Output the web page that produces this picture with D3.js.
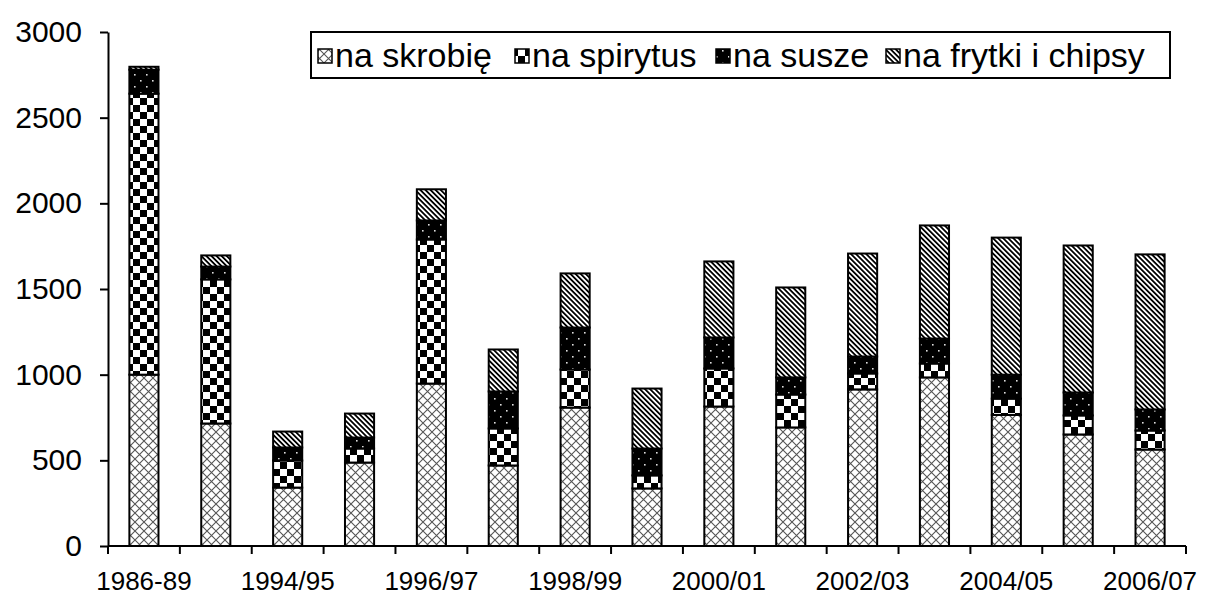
<!DOCTYPE html>
<html>
<head>
<meta charset="utf-8">
<script src="https://cdn.jsdelivr.net/npm/d3@7"></script>
<style>
  body { margin: 0; background: #fff; }
  text { font-family: Arial, "Liberation Sans", sans-serif; fill: #000; }
</style>
</head>
<body>
<div id="plot_div"></div>
<script>
const width  = 1205;
const height = 598;
const margin = {top: 32, right: 19, bottom: 52, left: 108};

// seasons (every other label shown on the axis)
const seasons = ["1986-89", "1993/94", "1994/95", "1995/96", "1996/97", "1997/98", "1998/99",
                 "1999/00", "2000/01", "2001/02", "2002/03", "2003/04", "2004/05", "2005/06", "2006/07"];

// uses of potatoes, thousand tonnes
const skrobie   = [1000, 715, 341, 487, 948, 470, 808, 336, 814, 692, 914, 984, 765, 651, 563];
const spirytus  = [1640, 841, 158,  82, 841, 216, 222,  76, 222, 192,  93,  81,  95, 111, 111];
const susze     = [ 140,  75,  76,  64, 111, 216, 245, 157, 181, 100,  99, 146, 140, 134, 123];
const frytki    = [  17,  65,  93, 140, 182, 245, 316, 350, 444, 525, 601, 660, 800, 858, 905];

const seriesNames = ["na skrobię", "na spirytus", "na susze", "na frytki i chipsy"];
const seriesKeys  = ["skrobie", "spirytus", "susze", "frytki"];
const yTicks = [0, 500, 1000, 1500, 2000, 2500, 3000];

const table = seasons.map((s, i) => ({
  season: s, skrobie: skrobie[i], spirytus: spirytus[i], susze: susze[i], frytki: frytki[i]
}));
const stacked = d3.stack().keys(seriesKeys)(table);

const svg = d3.create("svg")
    .attr("width", width)
    .attr("height", height)
    .attr("viewBox", [0, 0, width, height]);

// ---------------- fill patterns ----------------
const defs = svg.append("defs");

// crosshatch (na skrobię)
const p0 = defs.append("pattern").attr("id", "pat0")
    .attr("patternUnits", "userSpaceOnUse").attr("width", 9).attr("height", 9);
p0.append("rect").attr("width", 9).attr("height", 9).attr("fill", "#fff");
p0.append("path").attr("d", "M0,0L9,9M9,0L0,9")
    .attr("stroke", "#555").attr("stroke-width", 1.1).attr("fill", "none");

// checkerboard (na spirytus)
const p1 = defs.append("pattern").attr("id", "pat1")
    .attr("patternUnits", "userSpaceOnUse").attr("width", 14).attr("height", 14);
p1.append("rect").attr("width", 14).attr("height", 14).attr("fill", "#fff");
p1.append("rect").attr("x", 0).attr("y", 0).attr("width", 7).attr("height", 7).attr("fill", "#000");
p1.append("rect").attr("x", 7).attr("y", 7).attr("width", 7).attr("height", 7).attr("fill", "#000");

// black with white dots (na susze)
const p2 = defs.append("pattern").attr("id", "pat2")
    .attr("patternUnits", "userSpaceOnUse").attr("width", 12).attr("height", 12);
p2.append("rect").attr("width", 12).attr("height", 12).attr("fill", "#000");
p2.append("rect").attr("x", 2).attr("y", 2).attr("width", 1.6).attr("height", 1.6).attr("fill", "#ddd");
p2.append("rect").attr("x", 8).attr("y", 8).attr("width", 1.6).attr("height", 1.6).attr("fill", "#ddd");

// diagonal stripes (na frytki i chipsy)
const p3 = defs.append("pattern").attr("id", "pat3")
    .attr("patternUnits", "userSpaceOnUse").attr("width", 3.6).attr("height", 10)
    .attr("patternTransform", "rotate(-45)");
p3.append("rect").attr("width", 3.6).attr("height", 10).attr("fill", "#fff");
p3.append("rect").attr("width", 1.8).attr("height", 10).attr("fill", "#000");

const fills = ["url(#pat0)", "url(#pat1)", "url(#pat2)", "url(#pat3)"];

// ---------------- scales ----------------
const x = d3.scaleBand()
    .domain(seasons)
    .range([margin.left, width - margin.right])
    .paddingInner(0.595)
    .paddingOuter(0.2975);

const y = d3.scaleLinear()
    .domain([0, 3000])
    .range([height - margin.bottom, margin.top]);

// ---------------- bars ----------------
svg.append("g")
  .selectAll("g")
  .data(stacked)
  .join("g")
    .attr("fill", (d, i) => fills[i])
  .selectAll("rect")
  .data(d => d)
  .join("rect")
    .attr("x", d => x(d.data.season))
    .attr("y", d => y(d[1]))
    .attr("width", x.bandwidth())
    .attr("height", d => y(d[0]) - y(d[1]))
    .attr("stroke", "#000")
    .attr("stroke-width", 2);

// ---------------- axes ----------------
const yAxis = svg.append("g")
    .attr("transform", `translate(${margin.left},0)`)
    .call(d3.axisLeft(y).tickValues(yTicks).tickFormat(d3.format("d"))
            .tickSize(8).tickPadding(18).tickSizeOuter(0));
yAxis.select(".domain").attr("stroke-width", 2);
yAxis.selectAll(".tick line").attr("stroke-width", 2);
yAxis.selectAll(".tick text").attr("font-size", 30);

// x axis: ticks between categories
const xAxis = svg.append("g")
    .attr("transform", `translate(0,${y(0)})`);
xAxis.append("line")
    .attr("x1", margin.left).attr("x2", width - margin.right)
    .attr("stroke", "#000").attr("stroke-width", 2);
const edges = seasons.map(s => x(s) - x.step() * x.paddingInner() / 2)
    .concat([x(seasons[seasons.length - 1]) + x.bandwidth() + x.step() * x.paddingInner() / 2]);
xAxis.selectAll("line.tick")
  .data(edges)
  .join("line")
    .attr("class", "tick")
    .attr("x1", d => d).attr("x2", d => d)
    .attr("y1", 0).attr("y2", 8)
    .attr("stroke", "#000").attr("stroke-width", 2);
xAxis.selectAll("text")
  .data(seasons.filter((s, i) => i % 2 === 0))
  .join("text")
    .attr("x", d => x(d) + x.bandwidth() / 2)
    .attr("y", 44)
    .attr("text-anchor", "middle")
    .attr("font-size", 26)
    .text(d => d);

// ---------------- legend ----------------
const legend = svg.append("g");
legend.append("rect")
    .attr("x", 311).attr("y", 32).attr("width", 859).attr("height", 46)
    .attr("fill", "#fff").attr("stroke", "#000").attr("stroke-width", 2);
const legX = [318, 515, 716, 886];
seriesNames.forEach((name, i) => {
  legend.append("rect")
      .attr("x", legX[i]).attr("y", 49).attr("width", 14).attr("height", 14)
      .attr("fill", fills[i]).attr("stroke", "#000").attr("stroke-width", 1.5);
  legend.append("text")
      .attr("x", legX[i] + 17).attr("y", 67)
      .attr("font-size", 34)
      .text(name);
});

plot_div.append(svg.node());
</script>
</body>
</html>
